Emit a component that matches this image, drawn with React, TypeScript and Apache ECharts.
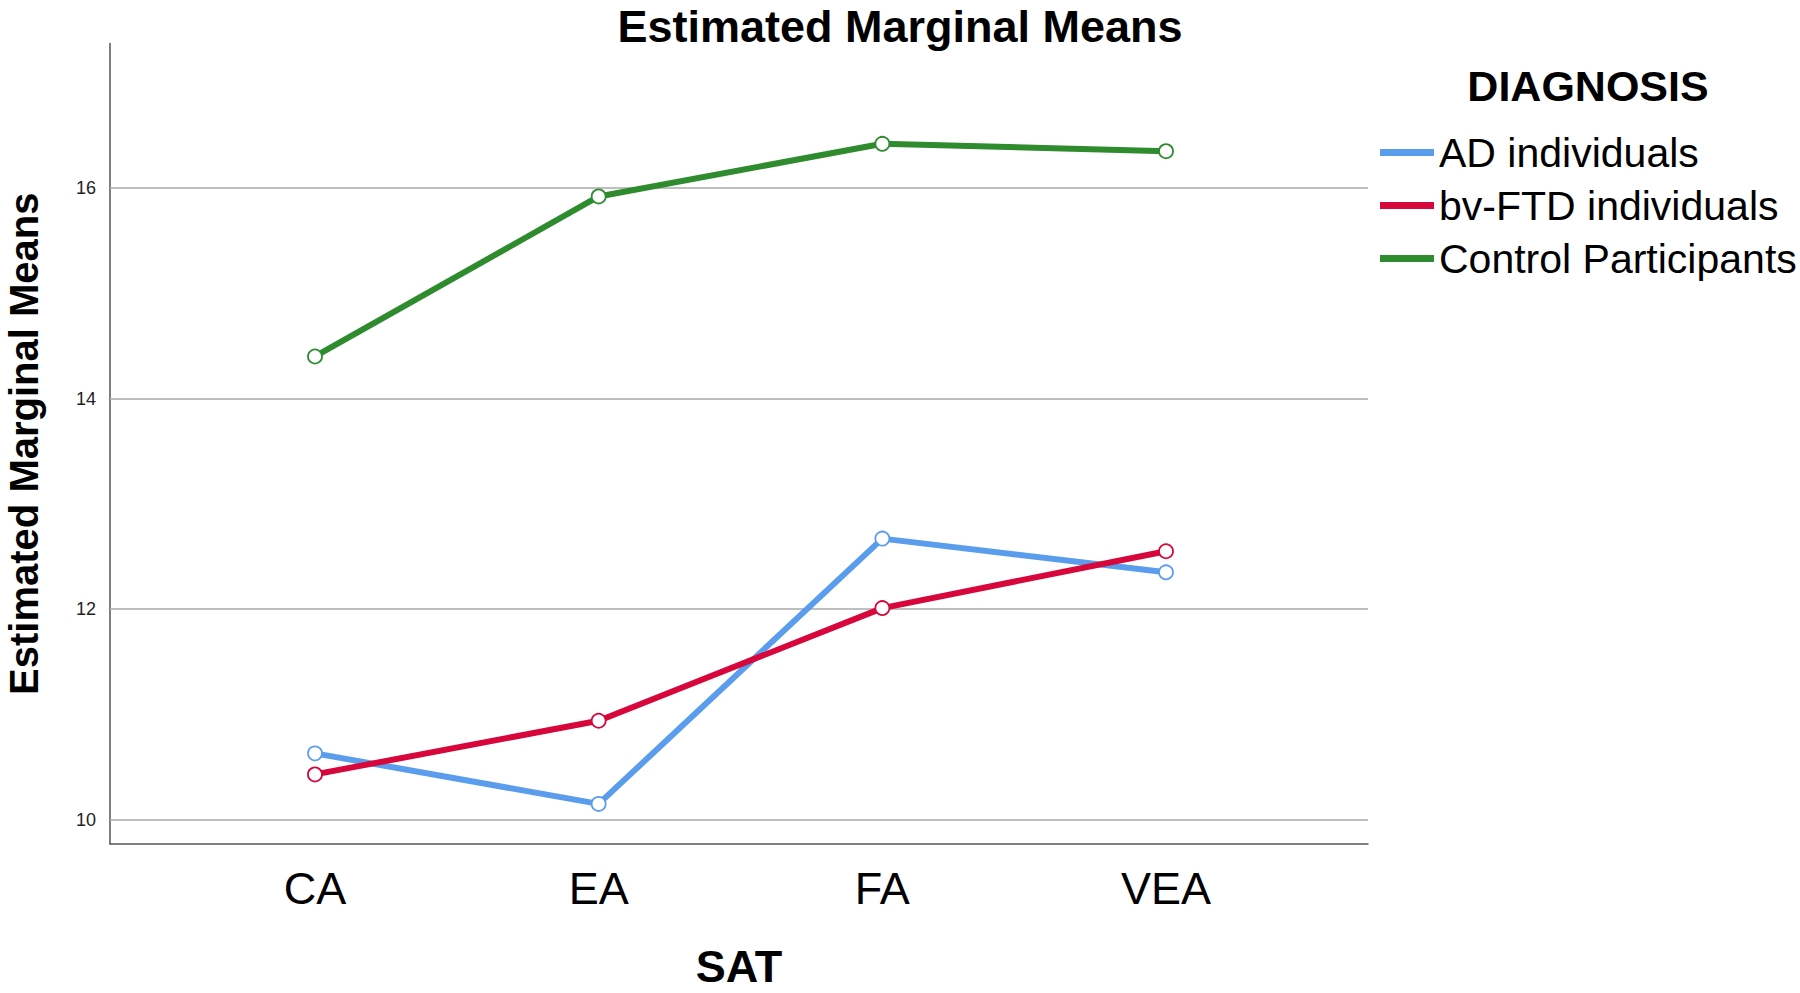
import React, { useEffect, useRef } from "react";
import * as echarts from "echarts";

const categories = ["CA", "EA", "FA", "VEA"];
const seriesNames = ["AD individuals", "bv-FTD individuals", "Control Participants"];
const adValues = [10.63, 10.15, 12.67, 12.35];
const bvftdValues = [10.43, 10.94, 12.01, 12.55];
const controlValues = [14.4, 15.92, 16.42, 16.35];
const yTickValues = [10, 12, 14, 16];
const colors = ["#5b9ded", "#d7063b", "#2e8b2e"];

const FONT = "'Liberation Sans', Arial, sans-serif";
const NARROW = "'Liberation Sans Narrow', 'Arial Narrow', 'Liberation Sans', Arial, sans-serif";

export default function App() {
  const ref = useRef<HTMLDivElement>(null);
  useEffect(() => {
    if (!ref.current) return;
    const chart = echarts.init(ref.current, undefined, { renderer: "svg" });
    const all = [adValues, bvftdValues, controlValues];
    const series = all.map((vals, s) => ({
      name: seriesNames[s],
      type: "line",
      data: categories.map((_, i) => [i, vals[i]]),
      symbol: "circle",
      symbolSize: 14,
      showSymbol: true,
      z: 3 + s,
      lineStyle: { color: colors[s], width: 6 },
      itemStyle: { color: "#ffffff", borderColor: colors[s], borderWidth: 1.8 },
      emphasis: { disabled: true },
      ...(s === 0
        ? {
            markLine: {
              silent: true,
              z: 1,
              symbol: "none",
              label: { show: false },
              lineStyle: { color: "#a9a9a9", width: 1.5, type: "solid" },
              emphasis: { disabled: true },
              data: yTickValues.map((v) => ({ yAxis: v })),
            },
          }
        : {}),
    }));
    chart.setOption({
      animation: false,
      backgroundColor: "#ffffff",
      title: {
        text: "Estimated Marginal Means",
        left: "center",
        top: 3,
        padding: [0, 5, 0, 5],
        textStyle: { fontFamily: FONT, fontSize: 45, fontWeight: "bold", color: "#000", lineHeight: 46 },
      },
      legend: {
        orient: "vertical",
        left: 1375,
        top: 121,
        icon: "rect",
        itemWidth: 54,
        itemHeight: 7,
        itemGap: 0,
        selectedMode: false,
        textStyle: { fontFamily: FONT, fontSize: 41, color: "#000", lineHeight: 53 },
        data: seriesNames.map((n, i) => ({ name: n, itemStyle: { color: colors[i], borderWidth: 0 } })),
      },
      graphic: [
        {
          type: "text",
          x: 1588,
          y: 86,
          style: {
            text: "DIAGNOSIS",
            fontFamily: FONT,
            fontSize: 43,
            fontWeight: "bold",
            fill: "#000",
            align: "center",
            verticalAlign: "middle",
          },
        },
      ],
      grid: { left: 110, top: 43.6, width: 1258, height: 800.2, outerBoundsMode: "none", containLabel: false },
      xAxis: {
        type: "value",
        min: -0.7226,
        max: 3.712,
        name: "SAT",
        nameLocation: "middle",
        nameGap: 100,
        nameTextStyle: { fontFamily: FONT, fontSize: 45, fontWeight: "bold", color: "#000" },
        axisLine: { show: true, onZero: false, lineStyle: { color: "#555", width: 1.5 } },
        axisTick: { show: false },
        splitLine: { show: false },
        axisLabel: {
          fontFamily: FONT,
          fontSize: 45,
          color: "#000",
          margin: 22,
          showMinLabel: false,
          showMaxLabel: false,
          formatter: (v: number) => {
            const i = Math.round(v);
            return Math.abs(v - i) < 1e-6 && categories[i] !== undefined ? categories[i] : "";
          },
        },
      },
      yAxis: {
        type: "value",
        min: 9.771,
        max: 17.372,
        name: "Estimated Marginal Means",
        nameLocation: "middle",
        nameGap: 66,
        nameTextStyle: { fontFamily: FONT, fontSize: 40, fontWeight: "bold", color: "#000" },
        axisLine: { show: true, onZero: false, lineStyle: { color: "#555", width: 1.5 } },
        axisTick: { show: false },
        splitLine: { show: false },
        axisLabel: {
          fontFamily: NARROW,
          fontSize: 18,
          color: "#222",
          margin: 14,
          showMinLabel: false,
          showMaxLabel: false,
          formatter: (v: number) => (yTickValues.some((t) => Math.abs(t - v) < 1e-6) ? String(Math.round(v)) : ""),
        },
      },
      series,
    });
    return () => chart.dispose();
  }, []);
  return (
    <div
      ref={ref}
      style={{ position: "fixed", left: 0, top: 0, width: 1800, height: 993, background: "#fff" }}
    />
  );
}
